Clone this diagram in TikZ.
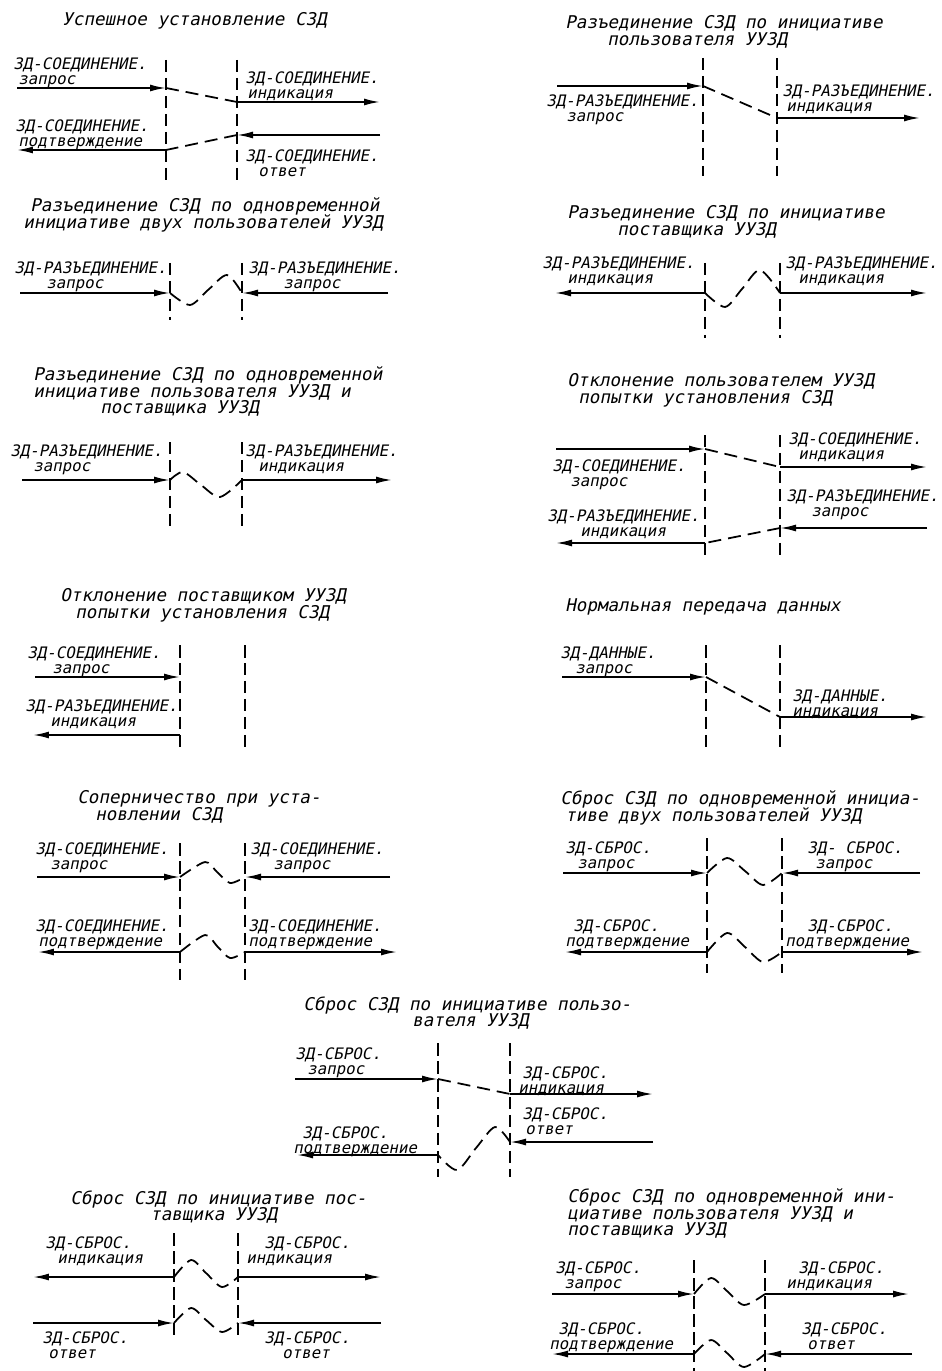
\documentclass[tikz,border=0pt]{standalone}
\usepackage{fontspec}
\setmainfont{DejaVu Sans Mono}[FakeSlant=0.2]
\usetikzlibrary{arrows.meta}

\begin{document}
\begin{tikzpicture}[x=0.02cm,y=-0.02cm,
    bound/.style={line width=0.75pt,dash pattern=on 2.5mm off 1.1mm},
    prim/.style={line width=1pt,-{Latex[length=3.2mm,width=1.4mm]}},
    trans/.style={line width=1pt,dash pattern=on 2.6mm off 1.4mm},
    lbl/.style={anchor=north west,inner sep=0pt,align=left,font={\fontsize{9}{8.6}\selectfont\lineskiplimit=-9pt}},
    ttl/.style={anchor=north west,inner sep=0pt,align=left,font={\fontsize{10}{9.6}\selectfont\lineskiplimit=-9pt}}]
    \useasboundingbox (0,0) rectangle (942,1371);

    % успешное установление
    \node[ttl] (t1) at (62,12) {Успешное установление СЗД};
    \coordinate (b1a) at (166,60); \coordinate (b1b) at (166,180);
    \coordinate (b1c) at (237,60); \coordinate (b1d) at (237,180);
    \draw[bound] (b1a)--(b1b);
    \draw[bound] (b1c)--(b1d);
    \coordinate (p1a) at (17,88); \coordinate (p1b) at (166,88);
    \coordinate (p1c) at (237,102); \coordinate (p1d) at (380,102);
    \coordinate (p1e) at (380,135); \coordinate (p1f) at (237,135);
    \coordinate (p1g) at (166,150); \coordinate (p1h) at (17,150);
    \draw[prim] (p1a)--(p1b);
    \draw[trans] (p1b)--(p1c);
    \draw[prim] (p1c)--(p1d);
    \draw[prim] (p1e)--(p1f);
    \draw[trans] (p1f)--(p1g);
    \draw[prim] (p1g)--(p1h);
    \node[lbl] (l1a) at (13,57) {ЗД-СОЕДИНЕНИЕ.\\\hspace*{1mm}запрос};
    \node[lbl] (l1b) at (245,71) {ЗД-СОЕДИНЕНИЕ.\\\hspace*{0.4mm}индикация};
    \node[lbl] (l1c) at (15,119) {ЗД-СОЕДИНЕНИЕ.\\\hspace*{0.6mm}подтверждение};
    \node[lbl] (l1d) at (245,149) {ЗД-СОЕДИНЕНИЕ.\\\hspace*{2.6mm}ответ};

    % разъединение пользователем
    \node[ttl] (t2) at (565,15) {Разъединение СЗД по инициативе\\\hspace*{8.4mm}пользователя УУЗД};
    \coordinate (b2a) at (703,58); \coordinate (b2b) at (703,176);
    \coordinate (b2c) at (777,58); \coordinate (b2d) at (777,176);
    \draw[bound] (b2a)--(b2b);
    \draw[bound] (b2c)--(b2d);
    \coordinate (p2a) at (557,86); \coordinate (p2b) at (703,86);
    \coordinate (p2c) at (777,118); \coordinate (p2d) at (920,118);
    \draw[prim] (p2a)--(p2b);
    \draw[trans] (p2b)--(p2c);
    \draw[prim] (p2c)--(p2d);
    \node[lbl] (l2a) at (546,94) {ЗД-РАЗЪЕДИНЕНИЕ.\\\hspace*{4mm}запрос};
    \node[lbl] (l2b) at (782,84) {ЗД-РАЗЪЕДИНЕНИЕ.\\\hspace*{0.8mm}индикация};

    % разъединение двумя пользователями
    \node[ttl] (t3) at (23,197) {\hspace*{1.4mm}Разъединение СЗД по одновременной\\инициативе двух пользователей УУЗД};
    \coordinate (b3a) at (170,263); \coordinate (b3b) at (170,320);
    \coordinate (b3c) at (242,263); \coordinate (b3d) at (242,320);
    \draw[bound] (b3a)--(b3b);
    \draw[bound] (b3c)--(b3d);
    \coordinate (p3a) at (20,293); \coordinate (p3b) at (170,293);
    \coordinate (p3c) at (242,293); \coordinate (p3d) at (388,293);
    \draw[prim] (p3a)--(p3b);
    \draw[prim] (p3d)--(p3c);
    \draw[trans] plot[smooth] coordinates {(p3b) (190,305) (208,290) (227,275) (p3c)};
    \node[lbl] (l3a) at (14,261) {ЗД-РАЗЪЕДИНЕНИЕ.\\\hspace*{6.4mm}запрос};
    \node[lbl] (l3b) at (248,261) {ЗД-РАЗЪЕДИНЕНИЕ.\\\hspace*{7mm}запрос};

    % разъединение поставщиком
    \node[ttl] (t4) at (567,205) {Разъединение СЗД по инициативе\\\hspace*{10mm}поставщика УУЗД};
    \coordinate (b4a) at (705,263); \coordinate (b4b) at (705,338);
    \coordinate (b4c) at (780,263); \coordinate (b4d) at (780,338);
    \draw[bound] (b4a)--(b4b);
    \draw[bound] (b4c)--(b4d);
    \coordinate (p4a) at (705,293); \coordinate (p4b) at (555,293);
    \coordinate (p4c) at (780,293); \coordinate (p4d) at (927,293);
    \draw[prim] (p4a)--(p4b);
    \draw[prim] (p4c)--(p4d);
    \draw[trans] plot[smooth] coordinates {(p4a) (725,307) (742,289) (760,270) (p4c)};
    \node[lbl] (l4a) at (542,256) {ЗД-РАЗЪЕДИНЕНИЕ.\\\hspace*{5mm}индикация};
    \node[lbl] (l4b) at (785,256) {ЗД-РАЗЪЕДИНЕНИЕ.\\\hspace*{2.6mm}индикация};

    % разъединение пользователем и поставщиком
    \node[ttl] (t5) at (33,366) {Разъединение СЗД по одновременной\\инициативе пользователя УУЗД и\\\hspace*{13.4mm}поставщика УУЗД};
    \coordinate (b5a) at (170,442); \coordinate (b5b) at (170,527);
    \coordinate (b5c) at (242,442); \coordinate (b5d) at (242,527);
    \draw[bound] (b5a)--(b5b);
    \draw[bound] (b5c)--(b5d);
    \coordinate (p5a) at (22,480); \coordinate (p5b) at (170,480);
    \coordinate (p5c) at (242,480); \coordinate (p5d) at (392,480);
    \draw[prim] (p5a)--(p5b);
    \draw[prim] (p5c)--(p5d);
    \draw[trans] plot[smooth] coordinates {(p5b) (183,472) (201,485) (220,497) (p5c)};
    \node[lbl] (l5a) at (10,444) {ЗД-РАЗЪЕДИНЕНИЕ.\\\hspace*{4.6mm}запрос};
    \node[lbl] (l5b) at (245,444) {ЗД-РАЗЪЕДИНЕНИЕ.\\\hspace*{2.6mm}индикация};

    % отклонение пользователем
    \node[ttl] (t6) at (567,373) {Отклонение пользователем УУЗД\\\hspace*{2.2mm}попытки установления СЗД};
    \coordinate (b6a) at (705,435); \coordinate (b6b) at (705,558);
    \coordinate (b6c) at (780,435); \coordinate (b6d) at (780,558);
    \draw[bound] (b6a)--(b6b);
    \draw[bound] (b6c)--(b6d);
    \coordinate (p6a) at (556,449); \coordinate (p6b) at (705,449);
    \coordinate (p6c) at (780,467); \coordinate (p6d) at (927,467);
    \coordinate (p6e) at (927,528); \coordinate (p6f) at (780,528);
    \coordinate (p6g) at (705,543); \coordinate (p6h) at (556,543);
    \draw[prim] (p6a)--(p6b);
    \draw[trans] (p6b)--(p6c);
    \draw[prim] (p6c)--(p6d);
    \draw[prim] (p6e)--(p6f);
    \draw[trans] (p6f)--(p6g);
    \draw[prim] (p6g)--(p6h);
    \node[lbl] (l6a) at (552,459) {ЗД-СОЕДИНЕНИЕ.\\\hspace*{3.6mm}запрос};
    \node[lbl] (l6b) at (788,432) {ЗД-СОЕДИНЕНИЕ.\\\hspace*{2mm}индикация};
    \node[lbl] (l6c) at (547,509) {ЗД-РАЗЪЕДИНЕНИЕ.\\\hspace*{6.6mm}индикация};
    \node[lbl] (l6d) at (786,489) {ЗД-РАЗЪЕДИНЕНИЕ.\\\hspace*{5mm}запрос};

    % отклонение поставщиком
    \node[ttl] (t7) at (60,588) {Отклонение поставщиком УУЗД\\\hspace*{3mm}попытки установления СЗД};
    \coordinate (b7a) at (180,645); \coordinate (b7b) at (180,750);
    \coordinate (b7c) at (245,645); \coordinate (b7d) at (245,750);
    \draw[bound] (b7a)--(b7b);
    \draw[bound] (b7c)--(b7d);
    \coordinate (p7a) at (35,677); \coordinate (p7b) at (180,677);
    \coordinate (p7c) at (180,735); \coordinate (p7d) at (33,735);
    \draw[prim] (p7a)--(p7b);
    \draw[prim] (p7c)--(p7d);
    \node[lbl] (l7a) at (27,646) {ЗД-СОЕДИНЕНИЕ.\\\hspace*{5mm}запрос};
    \node[lbl] (l7b) at (25,699) {ЗД-РАЗЪЕДИНЕНИЕ.\\\hspace*{5mm}индикация};

    % передача данных
    \node[ttl] (t8) at (565,598) {Нормальная передача данных};
    \coordinate (b8a) at (706,645); \coordinate (b8b) at (706,747);
    \coordinate (b8c) at (780,645); \coordinate (b8d) at (780,747);
    \draw[bound] (b8a)--(b8b);
    \draw[bound] (b8c)--(b8d);
    \coordinate (p8a) at (562,677); \coordinate (p8b) at (706,677);
    \coordinate (p8c) at (780,717); \coordinate (p8d) at (927,717);
    \draw[prim] (p8a)--(p8b);
    \draw[trans] (p8b)--(p8c);
    \draw[prim] (p8c)--(p8d);
    \node[lbl] (l8a) at (560,646) {ЗД-ДАННЫЕ.\\\hspace*{3mm}запрос};
    \node[lbl] (l8b) at (792,689) {ЗД-ДАННЫЕ.\\индикация};

    % соперничество
    \node[ttl] (t9) at (77,790) {Соперничество при уста-\\\hspace*{3.6mm}новлении СЗД};
    \coordinate (b9a) at (180,843); \coordinate (b9b) at (180,980);
    \coordinate (b9c) at (245,843); \coordinate (b9d) at (245,980);
    \draw[bound] (b9a)--(b9b);
    \draw[bound] (b9c)--(b9d);
    \coordinate (p9a) at (37,877); \coordinate (p9b) at (180,877);
    \coordinate (p9c) at (245,877); \coordinate (p9d) at (390,877);
    \coordinate (p9e) at (180,952); \coordinate (p9f) at (38,952);
    \coordinate (p9g) at (245,952); \coordinate (p9h) at (397,952);
    \draw[prim] (p9a)--(p9b);
    \draw[prim] (p9d)--(p9c);
    \draw[trans] plot[smooth] coordinates {(p9b) (205,862) (217,872) (230,883) (p9c)};
    \draw[prim] (p9e)--(p9f);
    \draw[prim] (p9g)--(p9h);
    \draw[trans] plot[smooth] coordinates {(p9e) (205,935) (217,946) (230,958) (p9g)};
    \node[lbl] (l9a) at (35,842) {ЗД-СОЕДИНЕНИЕ.\\\hspace*{3mm}запрос};
    \node[lbl] (l9b) at (250,842) {ЗД-СОЕДИНЕНИЕ.\\\hspace*{4.6mm}запрос};
    \node[lbl] (l9c) at (35,919) {ЗД-СОЕДИНЕНИЕ.\\\hspace*{0.6mm}подтверждение};
    \node[lbl] (l9d) at (248,919) {ЗД-СОЕДИНЕНИЕ.\\подтверждение};

    % сброс двумя пользователями
    \node[ttl] (t10) at (560,790) {Сброс СЗД по одновременной инициа-\\\hspace*{1mm}тиве двух пользователей УУЗД};
    \coordinate (b10a) at (707,838); \coordinate (b10b) at (707,973);
    \coordinate (b10c) at (782,838); \coordinate (b10d) at (782,973);
    \draw[bound] (b10a)--(b10b);
    \draw[bound] (b10c)--(b10d);
    \coordinate (p10a) at (563,873); \coordinate (p10b) at (707,873);
    \coordinate (p10c) at (782,873); \coordinate (p10d) at (920,873);
    \coordinate (p10e) at (707,952); \coordinate (p10f) at (565,952);
    \coordinate (p10g) at (782,952); \coordinate (p10h) at (923,952);
    \draw[prim] (p10a)--(p10b);
    \draw[prim] (p10d)--(p10c);
    \draw[trans] plot[smooth] coordinates {(p10b) (727,858) (745,871) (763,885) (p10c)};
    \draw[prim] (p10e)--(p10f);
    \draw[prim] (p10g)--(p10h);
    \draw[trans] plot[smooth] coordinates {(p10e) (727,933) (745,947) (763,962) (p10g)};
    \node[lbl] (l10a) at (565,841) {ЗД-СБРОС.\\\hspace*{2.4mm}запрос};
    \node[lbl] (l10b) at (807,841) {ЗД- СБРОС.\\\hspace*{1.6mm}запрос};
    \node[lbl] (l10c) at (565,919) {\hspace*{1.6mm}ЗД-СБРОС.\\подтверждение};
    \node[lbl] (l10d) at (785,919) {\hspace*{4.4mm}ЗД-СБРОС.\\подтверждение};

    % сброс пользователем
    \node[ttl] (t11) at (303,996) {Сброс СЗД по инициативе пользо-\\\hspace*{21.8mm}вателя УУЗД};
    \coordinate (b11a) at (438,1043); \coordinate (b11b) at (438,1177);
    \coordinate (b11c) at (510,1043); \coordinate (b11d) at (510,1177);
    \draw[bound] (b11a)--(b11b);
    \draw[bound] (b11c)--(b11d);
    \coordinate (p11a) at (295,1079); \coordinate (p11b) at (438,1079);
    \coordinate (p11c) at (510,1094); \coordinate (p11d) at (653,1094);
    \coordinate (p11e) at (653,1142); \coordinate (p11f) at (510,1142);
    \coordinate (p11g) at (438,1155); \coordinate (p11h) at (297,1155);
    \draw[prim] (p11a)--(p11b);
    \draw[trans] (p11b)--(p11c);
    \draw[prim] (p11c)--(p11d);
    \draw[prim] (p11e)--(p11f);
    \draw[trans] plot[smooth] coordinates {(p11f) (495,1127) (476,1148) (457,1170) (p11g)};
    \draw[prim] (p11g)--(p11h);
    \node[lbl] (l11a) at (295,1047) {ЗД-СБРОС.\\\hspace*{2.4mm}запрос};
    \node[lbl] (l11b) at (518,1066) {\hspace*{0.8mm}ЗД-СБРОС.\\индикация};
    \node[lbl] (l11c) at (293,1126) {\hspace*{1.8mm}ЗД-СБРОС.\\подтверждение};
    \node[lbl] (l11d) at (522,1107) {ЗД-СБРОС.\\\hspace*{0.6mm}ответ};

    % сброс поставщиком
    \node[ttl] (t12) at (70,1190) {Сброс СЗД по инициативе пос-\\\hspace*{16mm}тавщика УУЗД};
    \coordinate (b12a) at (174,1233); \coordinate (b12b) at (174,1340);
    \coordinate (b12c) at (238,1233); \coordinate (b12d) at (238,1340);
    \draw[bound] (b12a)--(b12b);
    \draw[bound] (b12c)--(b12d);
    \coordinate (p12a) at (174,1277); \coordinate (p12b) at (33,1277);
    \coordinate (p12c) at (238,1277); \coordinate (p12d) at (381,1277);
    \coordinate (p12e) at (33,1323); \coordinate (p12f) at (174,1323);
    \coordinate (p12g) at (381,1323); \coordinate (p12h) at (238,1323);
    \draw[prim] (p12a)--(p12b);
    \draw[prim] (p12c)--(p12d);
    \draw[trans] plot[smooth] coordinates {(p12a) (191,1260) (206,1273) (222,1287) (p12c)};
    \draw[prim] (p12e)--(p12f);
    \draw[prim] (p12g)--(p12h);
    \draw[trans] plot[smooth] coordinates {(p12f) (191,1308) (206,1320) (222,1332) (p12h)};
    \node[lbl] (l12a) at (45,1236) {ЗД-СБРОС.\\\hspace*{2.4mm}индикация};
    \node[lbl] (l12b) at (246,1236) {\hspace*{3.6mm}ЗД-СБРОС.\\индикация};
    \node[lbl] (l12c) at (42,1331) {ЗД-СБРОС.\\\hspace*{1.2mm}ответ};
    \node[lbl] (l12d) at (264,1331) {ЗД-СБРОС.\\\hspace*{3.6mm}ответ};

    % сброс пользователем и поставщиком
    \node[ttl] (t13) at (567,1188) {Сброс СЗД по одновременной ини-\\циативе пользователя УУЗД и\\поставщика УУЗД};
    \coordinate (b13a) at (694,1260); \coordinate (b13b) at (694,1371);
    \coordinate (b13c) at (765,1260); \coordinate (b13d) at (765,1371);
    \draw[bound] (b13a)--(b13b);
    \draw[bound] (b13c)--(b13d);
    \coordinate (p13a) at (552,1294); \coordinate (p13b) at (694,1294);
    \coordinate (p13c) at (765,1294); \coordinate (p13d) at (909,1294);
    \coordinate (p13e) at (912,1354); \coordinate (p13f) at (765,1354);
    \coordinate (p13g) at (694,1354); \coordinate (p13h) at (552,1354);
    \draw[prim] (p13a)--(p13b);
    \draw[prim] (p13c)--(p13d);
    \draw[trans] plot[smooth] coordinates {(p13b) (711,1278) (727,1291) (744,1305) (p13c)};
    \draw[prim] (p13e)--(p13f);
    \draw[prim] (p13g)--(p13h);
    \draw[trans] plot[smooth] coordinates {(p13g) (711,1340) (727,1353) (744,1367) (p13f)};
    \node[lbl] (l13a) at (555,1261) {ЗД-СБРОС.\\\hspace*{1.8mm}запрос};
    \node[lbl] (l13b) at (786,1261) {\hspace*{2.4mm}ЗД-СБРОС.\\индикация};
    \node[lbl] (l13c) at (549,1322) {\hspace*{1.8mm}ЗД-СБРОС.\\подтверждение};
    \node[lbl] (l13d) at (801,1322) {ЗД-СБРОС.\\\hspace*{1.2mm}ответ};
\end{tikzpicture}
\end{document}
